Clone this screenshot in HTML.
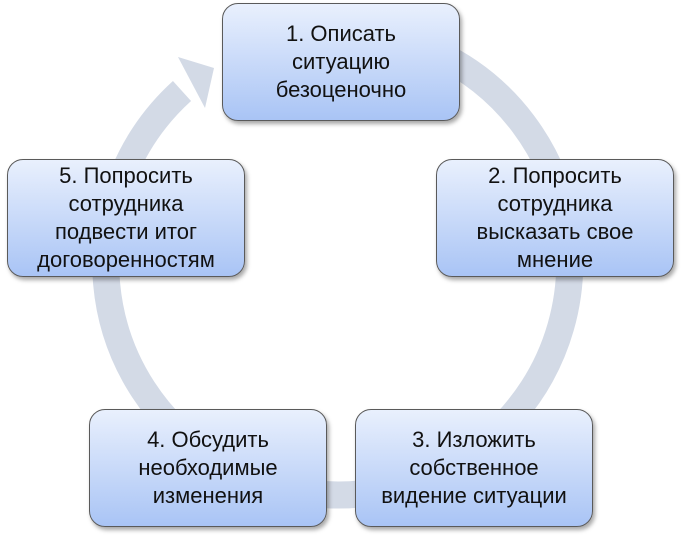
<!DOCTYPE html>
<html><head><meta charset="utf-8"><style>
body{margin:0;width:683px;height:541px;background:#fff;position:relative;overflow:hidden;font-family:"Liberation Sans",sans-serif}
.b{position:absolute;width:236px;height:116px;border:1px solid #5a5a5a;border-radius:16px;background:linear-gradient(#e9f0fd,#a9c4f5);box-shadow:2px 3px 4px rgba(0,0,0,.35);display:flex;align-items:center;justify-content:center;text-align:center;font-size:22px;line-height:28px;color:#111}
</style></head><body>
<svg width="683" height="541" style="position:absolute;left:0;top:0">
<path d="M 338 31 A 232 232 0 1 1 182 91" fill="none" stroke="#d3dae6" stroke-width="27"/>
<polygon points="178,57 214,68 205,108" fill="#d3dae6"/>
</svg>
<div class="b" style="left:222px;top:3px">1. Описать<br>ситуацию<br>безоценочно</div>
<div class="b" style="left:436px;top:159px">2. Попросить<br>сотрудника<br>высказать свое<br>мнение</div>
<div class="b" style="left:355px;top:409px">3. Изложить<br>собственное<br>видение ситуации</div>
<div class="b" style="left:89px;top:409px">4. Обсудить<br>необходимые<br>изменения</div>
<div class="b" style="left:7px;top:159px">5. Попросить<br>сотрудника<br>подвести итог<br>договоренностям</div>
</body></html>
